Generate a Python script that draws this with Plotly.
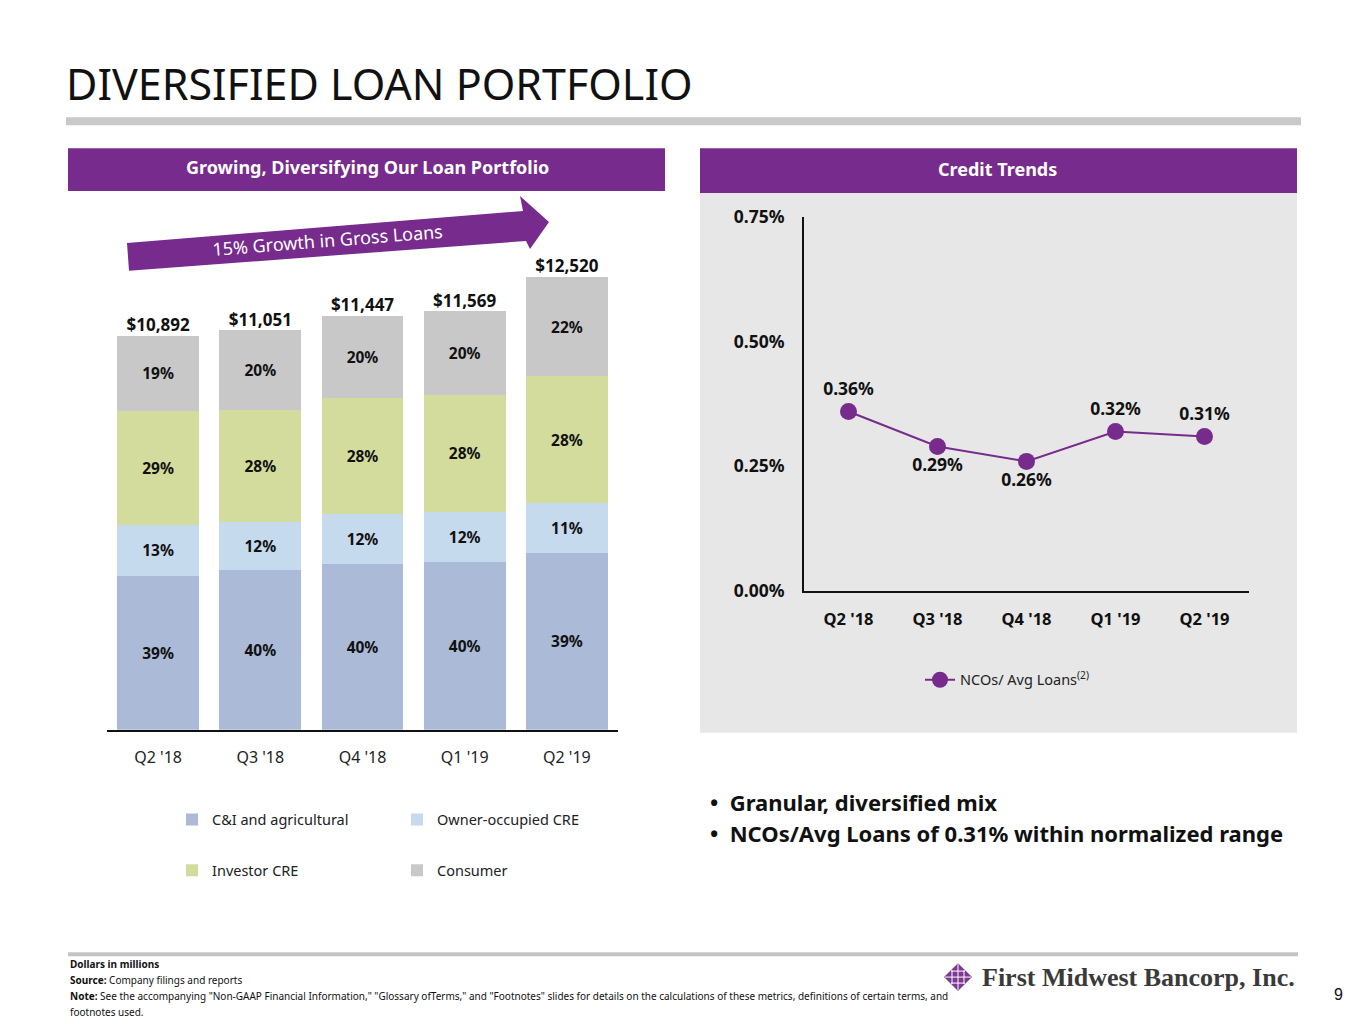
import plotly.graph_objects as go

W, H = 1365, 1024

# ---------------- data ----------------
quarters = ["Q2 '18", "Q3 '18", "Q4 '18", "Q1 '19", "Q2 '19"]
totals = [10892, 11051, 11447, 11569, 12520]
ci_pct = [39, 40, 40, 40, 39]
oo_pct = [13, 12, 12, 12, 11]
inv_pct = [29, 28, 28, 28, 28]
cons_pct = [19, 20, 20, 20, 22]
nco_pct = [0.36, 0.29, 0.26, 0.32, 0.31]
nco_ticks = [0.0, 0.25, 0.50, 0.75]
nco_label_pos = ["top center", "bottom center", "bottom center", "top center", "top center"]

series = [
    ("C&I and agricultural", ci_pct, "#ABBBD7", "legend"),
    ("Owner-occupied CRE", oo_pct, "#C6DAEE", "legend"),
    ("Investor CRE", inv_pct, "#D3DC9C", "legend3"),
    ("Consumer", cons_pct, "#C8C8C8", "legend3"),
]

PURPLE = "#772B8C"
FONT = "Noto Sans, DejaVu Sans Condensed, sans-serif"

# page photograph is slightly compressed vertically; positions are given in target pixels
SY, OY = 0.979, 11.5


def X(px):
    return px / W


def Y(py):
    return 1 - ((py - OY) / SY) / H


fig = go.Figure()

for name, pct, color, leg in series:
    vals = [t * p / 100 for t, p in zip(totals, pct)]
    fig.add_trace(go.Bar(
        x=quarters, y=vals, name=name, marker=dict(color=color, line=dict(width=0)),
        text=[f"{p}%" for p in pct], textposition="inside", insidetextanchor="middle",
        textangle=0, constraintext="none",
        textfont=dict(family=FONT, size=15.5, color="#111111", weight="bold"),
        legend=leg, xaxis="x", yaxis="y", hoverinfo="skip",
    ))

fig.add_trace(go.Scatter(
    x=quarters, y=totals, mode="text", text=[f"${t:,}" for t in totals],
    textposition="top center", textfont=dict(family=FONT, size=17, color="#111111", weight="bold"),
    showlegend=False, xaxis="x", yaxis="y", hoverinfo="skip",
))

fig.add_trace(go.Scatter(
    x=quarters, y=nco_pct, mode="lines+markers+text", name="NCOs/ Avg Loans<sup>(2)</sup>",
    line=dict(color=PURPLE, width=2), marker=dict(color=PURPLE, size=17),
    text=[f"{v:.2f}%" for v in nco_pct], textposition=nco_label_pos,
    textfont=dict(family=FONT, size=17.5, color="#111111", weight="bold"),
    legend="legend2", xaxis="x2", yaxis="y2", hoverinfo="skip",
))

shapes = [
    # title rule
    dict(type="line", xref="paper", yref="paper", x0=X(66), x1=X(1301), y0=Y(120), y1=Y(120),
         line=dict(color="#C9C9C9", width=8), layer="below"),
    # headers
    dict(type="rect", xref="paper", yref="paper", x0=X(68), x1=X(665), y0=Y(147), y1=Y(190),
         fillcolor=PURPLE, line=dict(width=0), layer="below"),
    dict(type="rect", xref="paper", yref="paper", x0=X(700), x1=X(1297), y0=Y(147), y1=Y(192),
         fillcolor=PURPLE, line=dict(width=0), layer="below"),
    # gray panel
    dict(type="rect", xref="paper", yref="paper", x0=X(700), x1=X(1297), y0=Y(192), y1=Y(733),
         fillcolor="#E7E7E7", line=dict(width=0), layer="below"),
    # footer rule
    dict(type="line", xref="paper", yref="paper", x0=X(68), x1=X(1298), y0=Y(955), y1=Y(955),
         line=dict(color="#C4C4C4", width=4), layer="below"),
]

arrow_pts = [(127, 242), (523, 210), (520, 195), (549, 221), (530, 248), (526, 240), (129, 270)]
path = "M " + " L ".join(f"{X(a):.5f},{Y(b):.5f}" for a, b in arrow_pts) + " Z"
shapes.append(dict(type="path", xref="paper", yref="paper", path=path, fillcolor=PURPLE,
                   line=dict(width=0)))

# logo diamond
cx, cy, r = 958, 978, 14
dpath = f"M {X(cx)},{Y(cy-r)} L {X(cx+r)},{Y(cy)} L {X(cx)},{Y(cy+r)} L {X(cx-r)},{Y(cy)} Z"
shapes.append(dict(type="path", xref="paper", yref="paper", path=dpath, fillcolor="#7E3A93",
                   line=dict(width=0)))
for d in (-6, 0, 6):
    shapes.append(dict(type="line", xref="paper", yref="paper", x0=X(cx + d), x1=X(cx + d),
                       y0=Y(cy - r + abs(d) + 1), y1=Y(cy + r - abs(d) - 1),
                       line=dict(color="white", width=1)))
    shapes.append(dict(type="line", xref="paper", yref="paper", y0=Y(cy + d), y1=Y(cy + d),
                       x0=X(cx - r + abs(d) + 1), x1=X(cx + r - abs(d) - 1),
                       line=dict(color="white", width=1)))

ann = []


def A(text, x, y, size, color="#111111", xanchor="left", yanchor="middle", weight="normal",
      family=FONT, angle=0):
    ann.append(dict(text=text, x=X(x), y=Y(y), xref="paper", yref="paper", showarrow=False,
                    xanchor=xanchor, yanchor=yanchor, textangle=angle,
                    font=dict(family=family, size=size, color=color, weight=weight)))


A("DIVERSIFIED LOAN PORTFOLIO", 64, 82, 43, color="#111111")
A("Growing, Diversifying Our Loan Portfolio", 367, 166, 18, color="white", xanchor="center",
  weight="bold")
A("Credit Trends", 998, 168, 18, color="white", xanchor="center", weight="bold")
A("15% Growth in Gross Loans", 327, 239, 18, color="white", xanchor="center", angle=-4.5)
A("•  Granular, diversified mix", 708, 802, 22, weight="bold")
A("•  NCOs/Avg Loans of 0.31% within normalized range", 708, 834, 22, weight="bold")
A("<b>Dollars in millions</b>", 68, 965, 10)
A("<b>Source:</b> Company filings and reports", 68, 981, 10)
A("<b>Note:</b> See the accompanying \"Non-GAAP Financial Information,\" \"Glossary ofTerms,\" and "
  "\"Footnotes\" slides for details on the calculations of these metrics, definitions of certain terms, and",
  68, 997, 10)
A("footnotes used.", 68, 1013, 10)
A("First Midwest Bancorp, Inc.", 980, 978, 26, color="#3A3A3A", weight="bold",
  family="Liberation Serif, DejaVu Serif, serif")
A("9", 1338, 995, 16, xanchor="center", family="Liberation Sans, Arial, sans-serif")

legend_font = dict(family=FONT, size=14.5, color="#222222")

fig.update_layout(
    width=W, height=H, margin=dict(l=0, r=0, t=0, b=0), autosize=False,
    paper_bgcolor="white", plot_bgcolor="rgba(0,0,0,0)",
    barmode="stack", bargap=0.2, hovermode=False,
    font=dict(family=FONT),
    xaxis=dict(domain=[X(107), X(618)], anchor="y", showline=True, linecolor="#111111",
               linewidth=2, ticks="", showgrid=False, zeroline=False,
               tickfont=dict(family=FONT, size=16, color="#222222"), ticklabelstandoff=12),
    yaxis=dict(domain=[Y(730), Y(240)], anchor="x", range=[0, 13510], visible=False,
               showgrid=False, zeroline=False),
    xaxis2=dict(domain=[X(804), X(1249)], anchor="y2", range=[-0.5, 4.5], showline=True,
                linecolor="#111111", linewidth=2, ticks="", showgrid=False, zeroline=False,
                tickfont=dict(family=FONT, size=16.5, color="#111111", weight="bold"),
                ticklabelstandoff=12),
    yaxis2=dict(domain=[Y(591), Y(216)], anchor="x2", range=[0, 0.75], showline=True,
                linecolor="#111111", linewidth=2, ticks="", showgrid=False, zeroline=False,
                tickvals=nco_ticks, ticktext=[f"{v:.2f}%" for v in nco_ticks],
                tickfont=dict(family=FONT, size=17.5, color="#111111", weight="bold"),
                ticklabelstandoff=14),
    legend=dict(x=X(172), y=Y(820), xanchor="left", yanchor="middle", orientation="h",
                entrywidth=180, traceorder="normal", font=legend_font, bgcolor="rgba(0,0,0,0)"),
    legend3=dict(x=X(172), y=Y(871), xanchor="left", yanchor="middle", orientation="h",
                 entrywidth=180, traceorder="normal", font=legend_font, bgcolor="rgba(0,0,0,0)"),
    legend2=dict(x=X(920), y=Y(680), xanchor="left", yanchor="middle", orientation="h",
                 font=legend_font, bgcolor="rgba(0,0,0,0)"),
    shapes=shapes, annotations=ann,
)

post = (
    "var h=document.documentElement,b=document.body;"
    "h.style.margin='0';b.style.margin='0';h.style.overflow='hidden';b.style.overflow='hidden';"
)

fig.write_html(
    "out.html", default_width="1365px", default_height="1024px",
    config={"responsive": False, "displayModeBar": False},
    post_script=post,
)
